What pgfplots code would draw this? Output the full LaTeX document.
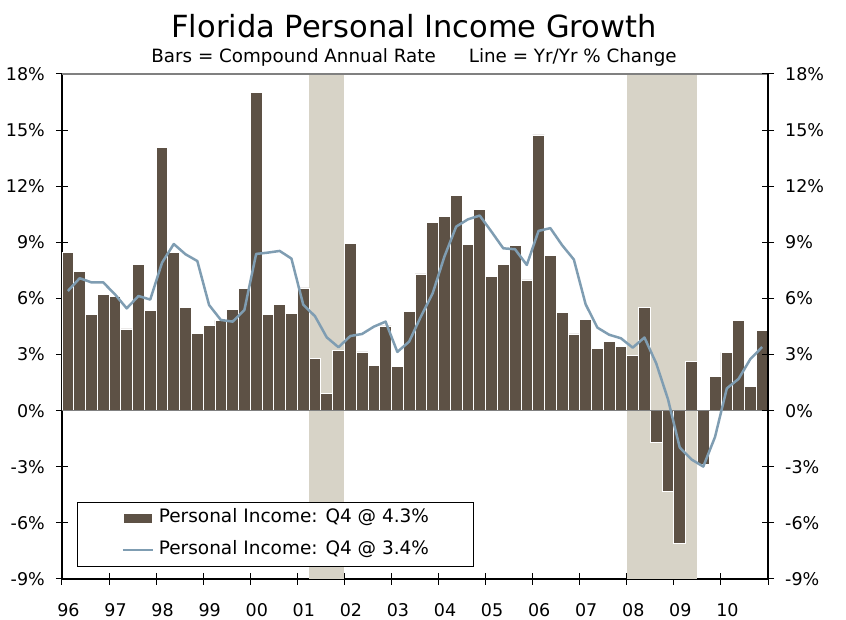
\documentclass[border=0pt]{standalone}
\usepackage{pgfplots}
\pgfplotsset{compat=1.18}
\usepackage{fontspec}
\setmainfont{DejaVu Sans}
\definecolor{barcol}{RGB}{93,81,69}
\definecolor{linecol}{RGB}{127,157,178}
\definecolor{shadecol}{RGB}{215,211,199}
\definecolor{zerocol}{RGB}{128,128,128}
\newcommand{\tickfont}{\fontsize{17.5}{20}\selectfont}
\begin{document}
\begin{tikzpicture}
\path[use as bounding box] (-62pt,-41pt) rectangle (784pt,579pt);
\begin{axis}[
  at={(0pt,0pt)}, anchor=south west,
  scale only axis, width=706pt, height=505pt,
  xmin=0, xmax=60, ymin=-9, ymax=18,
  axis x line*=bottom, axis y line*=left,
  axis line style={black, line width=1.2pt, -},
  xtick={0,4,...,60},
  xticklabels={96,97,98,99,00,01,02,03,04,05,06,07,08,09,10,{}},
  ytick={-9,-6,...,18},
  yticklabels={-9\%,-6\%,-3\%,0\%,3\%,6\%,9\%,12\%,15\%,18\%},
  tick align=center, major tick length=12pt,
  tick style={black, line width=1pt},
  ticklabel style={font=\tickfont},
  xticklabel style={anchor=north, inner sep=0pt, xshift=6.5pt, yshift=-18.5pt},
  yticklabel style={anchor=east, inner sep=0pt, xshift=-11pt},
  legend style={at={(rel axis cs:0.0217,0.153)}, anchor=north west, draw=black, line width=1pt, fill=white,
    inner xsep=44pt, inner ysep=7.5pt, row sep=15pt, column sep=5pt,
    font=\fontsize{18.5}{20}\selectfont,
    nodes={inner sep=0pt, text height=13pt, text depth=4pt}},
  legend cell align=left,
]
\addplot[fill=shadecol, draw=none, forget plot] coordinates {(21,-9) (21,18) (24,18) (24,-9)} -- cycle;
\addplot[fill=shadecol, draw=none, forget plot] coordinates {(48,-9) (48,18) (54,18) (54,-9)} -- cycle;
\addplot[ybar, bar width=1, fill=barcol, draw=white, line width=0.8pt,
  legend image code/.code={\fill[barcol] (2pt,-4.2pt) rectangle (29pt,4.2pt);}]
coordinates {
(0.5,8.48) (1.5,7.42) (2.5,5.12) (3.5,6.19)
(4.5,6.13) (5.5,4.37) (6.5,7.84) (7.5,5.35)
(8.5,14.05) (9.5,8.45) (10.5,5.54) (11.5,4.14)
(12.5,4.55) (13.5,4.83) (14.5,5.40) (15.5,6.52)
(16.5,17.00) (17.5,5.12) (18.5,5.67) (19.5,5.22)
(20.5,6.56) (21.5,2.78) (22.5,0.93) (23.5,3.24)
(24.5,8.95) (25.5,3.14) (26.5,2.41) (27.5,4.53)
(28.5,2.35) (29.5,5.29) (30.5,7.31) (31.5,10.07)
(32.5,10.36) (33.5,11.52) (34.5,8.91) (35.5,10.77)
(36.5,7.17) (37.5,7.83) (38.5,8.81) (39.5,6.99)
(40.5,14.74) (41.5,8.29) (42.5,5.27) (43.5,4.10)
(44.5,4.90) (45.5,3.31) (46.5,3.72) (47.5,3.45)
(48.5,2.93) (49.5,5.50) (50.5,-1.72) (51.5,-4.33)
(52.5,-7.11) (53.5,2.61) (54.5,-2.89) (55.5,1.82)
(56.5,3.12) (57.5,4.81) (58.5,1.30) (59.5,4.30)
};
\addlegendentry{Personal Income: Q4 @ 4.3\%}
\draw[zerocol, line width=1.2pt] (axis cs:0,0) -- (axis cs:60,0);
\draw[zerocol, line width=1.2pt] (rel axis cs:0,1) -- (rel axis cs:1,1);
\addplot[linecol, line width=2.5pt, line join=round, mark=none,
  legend image code/.code={\draw[linecol, line width=2pt] (0pt,0pt) -- (30pt,0pt);}]
coordinates {
(0.5,6.40) (1.5,7.08) (2.5,6.86) (3.5,6.86)
(4.5,6.22) (5.5,5.47) (6.5,6.13) (7.5,5.94)
(8.5,7.91) (9.5,8.91) (10.5,8.36) (11.5,8.00)
(12.5,5.65) (13.5,4.85) (14.5,4.76) (15.5,5.38)
(16.5,8.38) (17.5,8.45) (18.5,8.54) (19.5,8.13)
(20.5,5.67) (21.5,5.05) (22.5,3.92) (23.5,3.39)
(24.5,3.99) (25.5,4.10) (26.5,4.49) (27.5,4.76)
(28.5,3.14) (29.5,3.69) (30.5,5.03) (31.5,6.27)
(32.5,8.24) (33.5,9.84) (34.5,10.23) (35.5,10.43)
(36.5,9.57) (37.5,8.68) (38.5,8.63) (39.5,7.79)
(40.5,9.61) (41.5,9.76) (42.5,8.85) (43.5,8.08)
(44.5,5.69) (45.5,4.44) (46.5,4.06) (47.5,3.87)
(48.5,3.37) (49.5,3.91) (50.5,2.53) (51.5,0.61)
(52.5,-1.97) (53.5,-2.61) (54.5,-2.99) (55.5,-1.40)
(56.5,1.19) (57.5,1.70) (58.5,2.76) (59.5,3.40)
};
\addlegendentry{Personal Income: Q4 @ 3.4\%}
\end{axis}
\begin{axis}[
  at={(0pt,0pt)}, anchor=south west,
  scale only axis, width=706pt, height=505pt,
  xmin=0, xmax=60, ymin=-9, ymax=18,
  axis x line=none, axis y line*=right,
  axis line style={black, line width=1.2pt, -},
  ytick={-9,-6,...,18},
  yticklabels={-9\%,-6\%,-3\%,0\%,3\%,6\%,9\%,12\%,15\%,18\%},
  tick align=center, major tick length=12pt,
  tick style={black, line width=1pt},
  yticklabel style={anchor=west, inner sep=0pt, xshift=11pt, font=\tickfont},
]
\end{axis}
\node[anchor=base, font=\fontsize{30.5}{34}\selectfont] at (352pt,541.4pt) {Florida Personal Income Growth};
\node[anchor=base, font=\fontsize{18.3}{20}\selectfont] at (352pt,516.3pt) {Bars = Compound Annual Rate\hspace{33pt}Line = Yr/Yr \% Change};
\end{tikzpicture}
\end{document}
